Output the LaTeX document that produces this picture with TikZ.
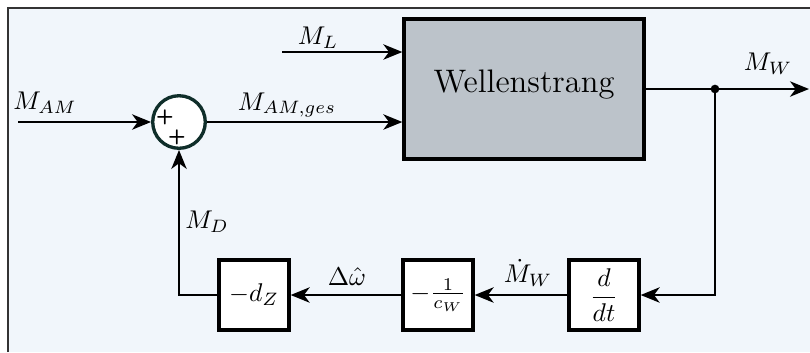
\documentclass[tikz,border=0pt]{standalone}
\usetikzlibrary{arrows.meta,calc}
\definecolor{bgc}{HTML}{F1F6FB}
\definecolor{blockgray}{HTML}{BCC3CA}
\definecolor{sumc}{HTML}{0F2E2A}
\begin{document}
\begin{tikzpicture}[x=0.39pt,y=-0.39pt,
  blk/.style={draw=black, line width=1.3pt, fill=white, minimum width=27.3pt, minimum height=27.3pt, inner sep=0pt},
  sig/.style={line width=0.75pt, -{Stealth[length=7.4pt,width=6pt,inset=2.2pt]}},
  lbl/.style={inner sep=0pt}]
\useasboundingbox (0,0) rectangle (810,352);
\fill[white] (0,0) rectangle (810,352);
\fill[bgc] (8,8) rectangle (810,352);
\draw[line width=0.6pt, draw=black!80] (8,352) -- (8,8) -- (810,8);

% blocks
\node[blk, fill=blockgray, minimum width=93.6pt, minimum height=54.6pt] (ws) at (524,89) {};
\node[lbl, font=\fontsize{12.7}{15}\selectfont] (wst) at (524,85) {Wellenstrang};
\node[circle, draw=sumc, line width=1.3pt, fill=white, minimum size=20.5pt, inner sep=0pt] (sum) at (179,122) {};
\node[lbl, font=\sffamily\footnotesize\bfseries] (p1) at (165,117) {+};
\node[lbl, font=\sffamily\footnotesize\bfseries] (p2) at (177,137) {+};
\node[blk] (ddt) at (604,295) {$\displaystyle\frac{d}{dt}$};
\node[blk] (cw) at (438,295) {$-\frac{1}{c_W}$};
\node[blk] (dz) at (254,295) {$-d_Z$};
\node[circle, fill=black, inner sep=0pt, minimum size=3.4pt] (br) at (715,89) {};

% free ends
\coordinate (amin) at (18,122);
\coordinate (mlin) at (282,52);
\coordinate (mwout) at (809,89);

% connectors
\draw[sig] (amin) -- (sum.west);
\draw[sig] (sum.east) -- (sum.east -| ws.west);
\draw[sig] (mlin) -- (mlin -| ws.west);
\draw[sig] (ws.east) -- (mwout);
\draw[sig] (br.center) |- (ddt.east);
\draw[sig] (ddt.west) -- (cw.east);
\draw[sig] (cw.west) -- (dz.east);
\draw[sig] (dz.west) -| (sum.south);

% labels
\node[lbl] (lam) at (45,103) {$M_{AM}$};
\node[lbl] (lamg) at (287,105) {$M_{AM,ges}$};
\node[lbl] (lml) at (318,38) {$M_L$};
\node[lbl] (lmw) at (768,64) {$M_W$};
\node[lbl] (lmwd) at (528,273) {$\dot M_W$};
\node[lbl] (ldw) at (347,277) {$\Delta\hat\omega$};
\node[lbl] (lmd) at (207,222) {$M_D$};
\end{tikzpicture}
\end{document}
